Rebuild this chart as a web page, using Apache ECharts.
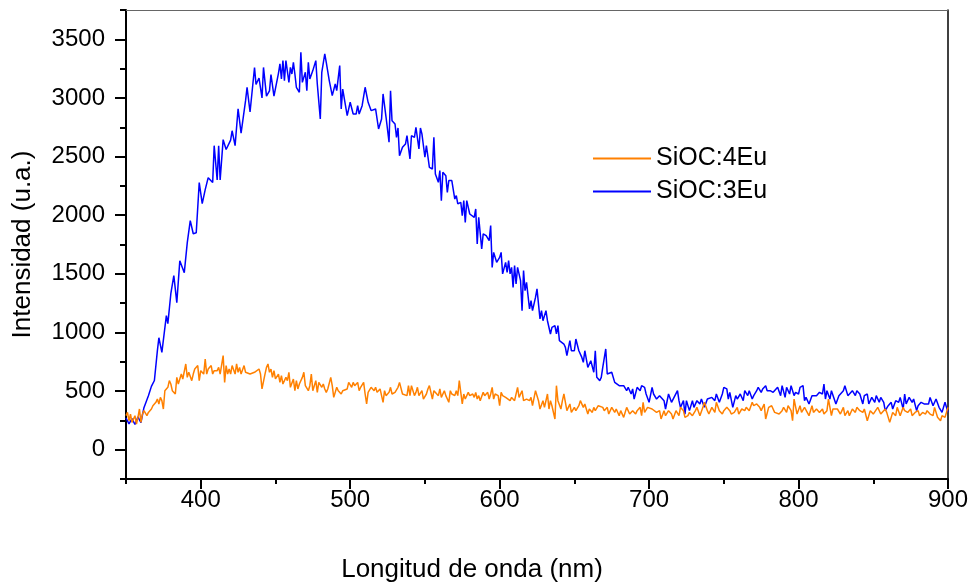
<!DOCTYPE html>
<html>
<head>
<meta charset="utf-8">
<script src="https://cdn.jsdelivr.net/npm/echarts@6/dist/echarts.min.js"></script>
<style>html,body{margin:0;padding:0;background:#fff;}#c{width:976px;height:584px;}</style>
</head>
<body>
<div id="c"></div>
<script>
const seriesNames = ['SiOC:4Eu', 'SiOC:3Eu'];
const xMajorTicks = [400, 500, 600, 700, 800, 900];
const xMinorTicks = [350, 450, 550, 650, 750, 850];
const yMajorTicks = [0, 500, 1000, 1500, 2000, 2500, 3000, 3500];
const yMinorTicks = [-250, 250, 750, 1250, 1750, 2250, 2750, 3250, 3750];

// SiOC:3Eu  [wavelength nm, intensity]
const sioc3Eu = [
[350,270],[352,220],[354,265],[356,215],[358,280],[360,230],[362,358],[365,460],[367,540],[369,590],
[371,845],[372,955],[374,830],[377,1143],[378,1075],[380,1330],[382,1485],[384,1254],[386,1612],[389,1510],
[391,1766],[393,1953],[395,1842],[397,1850],[399,2278],[401,2098],[403,2218],[405,2320],[408,2278],[409,2593],
[411,2300],[412,2593],[413,2300],[415,2644],[417,2560],[420,2640],[421,2720],[423,2593],[425,2908],[427,2700],
[430,2977],[431,3090],[433,2880],[436,3260],[437,3115],[439,3170],[441,3000],[442,3260],[444,3015],[446,3060],
[447,3200],[449,3015],[452,3210],[453,3290],[454,3162],[455,3318],[456,3148],[457,3318],[459,3133],[460,3261],
[461,3204],[462,3304],[463,3204],[464,3091],[466,3048],[467,3389],[468,3133],[470,3219],[471,3062],[472,3304],
[473,3162],[475,3233],[477,3318],[478,3119],[480,2821],[481,3219],[482,3233],[483,3375],[484,3304],[486,3148],
[488,3020],[490,3119],[491,3062],[493,3276],[494,2906],[495,3076],[498,2849],[500,2963],[502,2863],[504,2863],
[505,2934],[506,2863],[508,2934],[509,2934],[510,3091],[512,2963],[514,2892],[517,2906],[518,2920],[519,2735],
[521,2821],[522,3034],[524,2835],[526,2622],[527,3062],[528,2806],[530,2778],[531,2664],[532,2744],[533,2508],
[535,2579],[537,2607],[538,2678],[540,2480],[541,2678],[543,2664],[544,2750],[546,2565],[547,2744],[548,2693],
[550,2494],[551,2593],[553,2408],[555,2394],[556,2664],[557,2352],[559,2280],[560,2380],[561,2124],[562,2366],
[564,2337],[565,2195],[566,2295],[568,2295],[570,2138],[571,2167],[572,2096],[574,2110],[575,1996],[576,2124],
[577,1939],[578,2124],[580,2010],[581,1996],[583,1982],[584,2053],[585,1754],[586,1982],[588,1712],[589,1840],
[591,1825],[593,1783],[594,1911],[595,1555],[596,1683],[598,1598],[600,1640],[601,1683],[602,1499],[604,1598],
[605,1512],[606,1612],[607,1499],[608,1555],[609,1384],[610,1570],[611,1413],[612,1555],[614,1442],[615,1186],
[616,1527],[617,1356],[618,1427],[620,1200],[621,1271],[622,1186],[624,1299],[625,1371],[627,1115],[628,1186],
[629,1100],[631,1186],[632,1100],[634,987],[635,1043],[637,1058],[638,987],[639,1058],[640,930],[643,901],
[644,873],[645,802],[647,930],[648,844],[650,844],[651,944],[653,844],[655,787],[656,745],[657,844],
[659,702],[661,759],[663,660],[664,844],[665,617],[667,589],[668,617],[669,702],[671,859],[672,645],
[673,631],[675,660],[677,574],[678,589],[680,546],[681,560],[683,546],[685,503],[686,532],[688,475],
[689,518],[690,432],[692,532],[694,503],[695,546],[697,532],[698,475],[700,404],[702,532],[703,475],
[705,432],[707,461],[710,418],[711,347],[713,475],[715,404],[716,418],[719,503],[720,418],[721,361],
[723,418],[724,304],[725,418],[727,333],[729,418],[730,361],[732,418],[734,390],[735,432],[737,361],
[739,432],[740,418],[742,446],[744,418],[745,475],[747,404],[749,475],[750,532],[752,518],[753,432],
[754,489],[756,361],[758,461],[759,432],[761,475],[763,418],[764,503],[766,461],[767,503],[769,432],
[770,461],[772,503],[773,532],[775,489],[776,518],[778,546],[779,503],[781,503],[783,489],[784,503],
[786,532],[788,461],[789,546],[791,446],[792,532],[794,475],[795,546],[797,461],[798,489],[800,475],
[801,532],[803,546],[804,418],[805,446],[807,390],[809,461],[810,475],[812,461],[814,489],[816,475],
[817,560],[818,432],[819,503],[821,432],[822,503],[823,489],[825,390],[827,461],[828,475],[830,503],
[831,546],[833,461],[834,446],[836,503],[838,461],[839,503],[841,475],[843,390],[844,461],[846,475],
[847,390],[849,446],[851,404],[852,461],[854,404],[855,446],[857,404],[858,333],[860,375],[862,404],
[863,347],[865,418],[867,404],[868,446],[870,347],[871,475],[872,390],[874,446],[876,404],[877,432],
[879,333],[880,375],[882,404],[884,390],[885,404],[887,390],[888,446],[890,375],[892,432],[894,361],
[895,361],[896,318],[898,404],[899,361],[900,320]
];

// SiOC:4Eu  [wavelength nm, intensity]
const sioc4Eu = [
[350,290],[351,318],[352,247],[353,304],[354,233],[356,290],[357,219],[358,276],[359,347],[360,233],
[361,304],[362,333],[364,290],[365,318],[367,347],[368,375],[370,404],[371,432],[372,390],[373,446],
[374,418],[375,347],[376,503],[378,532],[379,589],[380,560],[381,503],[383,475],[384,617],[385,560],
[387,645],[388,603],[390,731],[391,617],[392,660],[394,589],[395,645],[396,688],[398,717],[399,589],
[400,674],[402,645],[403,773],[404,645],[405,688],[407,717],[408,645],[409,674],[411,674],[412,702],
[413,645],[415,802],[416,574],[417,717],[418,645],[419,688],[420,645],[421,717],[423,645],[424,731],
[425,660],[426,702],[427,645],[429,717],[430,660],[431,674],[433,645],[434,660],[436,660],[437,645],
[439,688],[440,645],[441,518],[443,645],[444,702],[445,731],[446,660],[447,688],[448,617],[449,674],
[450,603],[452,645],[453,574],[454,631],[455,560],[457,617],[458,589],[459,660],[460,532],[462,603],
[463,503],[464,589],[465,518],[466,560],[468,617],[469,660],[470,546],[471,560],[472,503],[473,546],
[474,645],[475,503],[477,589],[478,489],[479,574],[481,532],[482,560],[483,518],[484,489],[485,518],
[487,617],[488,546],[489,446],[491,532],[492,503],[494,475],[495,503],[496,489],[498,518],[499,574],
[501,532],[502,574],[503,546],[505,574],[506,503],[507,532],[509,574],[510,475],[511,390],[512,489],
[514,532],[516,503],[517,532],[518,489],[520,518],[522,404],[523,503],[524,461],[526,489],[527,532],
[528,475],[530,489],[532,532],[533,574],[535,475],[536,489],[538,461],[539,546],[540,461],[541,546],
[543,461],[544,489],[545,532],[546,461],[548,503],[549,432],[551,475],[552,518],[553,546],[555,432],
[556,503],[557,489],[559,461],[560,518],[561,446],[563,503],[564,461],[566,404],[567,503],[568,475],
[570,461],[571,503],[572,461],[573,589],[574,489],[575,390],[576,475],[577,432],[579,489],[580,461],
[581,475],[582,475],[583,446],[584,489],[585,432],[586,461],[587,418],[589,489],[590,461],[592,489],
[593,432],[594,475],[595,532],[596,432],[597,475],[599,461],[600,375],[601,489],[602,461],[604,446],
[605,461],[607,418],[608,446],[610,418],[612,532],[613,446],[615,503],[616,418],[618,432],[620,418],
[621,446],[622,375],[624,503],[626,418],[627,347],[629,418],[630,361],[632,475],[633,347],[634,418],
[635,375],[637,262],[638,546],[639,418],[641,347],[642,418],[643,475],[645,333],[647,390],[648,318],
[650,361],[651,333],[653,375],[654,418],[656,361],[657,390],[659,304],[660,347],[662,318],[663,361],
[664,333],[666,375],[667,375],[669,361],[670,333],[672,361],[673,304],[675,361],[677,318],[678,347],
[680,290],[681,333],[683,276],[685,361],[686,375],[687,304],[689,333],[691,304],[692,333],[694,361],
[695,290],[696,404],[697,318],[699,361],[700,375],[702,347],[703,333],[705,318],[707,333],[708,262],
[710,333],[711,290],[713,333],[715,304],[716,262],[718,333],[720,290],[721,361],[723,333],[724,276],
[726,290],[727,318],[729,290],[731,333],[732,361],[734,290],[736,361],[737,404],[739,333],[740,304],
[742,361],[744,318],[745,404],[747,333],[749,304],[750,333],[752,361],[754,333],[755,304],[757,318],
[759,361],[760,304],[762,347],[764,333],[765,361],[767,333],[769,404],[770,375],[772,390],[774,361],
[775,333],[777,390],[778,262],[780,361],[781,375],[782,375],[784,318],[785,333],[787,304],[789,333],
[790,361],[792,318],[793,375],[795,333],[796,247],[797,432],[799,304],[801,375],[802,318],[804,361],
[805,375],[807,290],[809,375],[810,318],[812,347],[814,318],[816,347],[817,304],[819,333],[820,432],
[822,290],[823,347],[824,333],[826,347],[828,304],[830,361],[831,290],[833,333],[834,290],[836,347],
[838,318],[839,361],[841,333],[843,318],[844,347],[846,247],[848,333],[850,304],[851,318],[853,361],
[855,304],[856,318],[858,347],[859,318],[861,233],[863,318],[865,290],[866,361],[868,290],[870,361],
[871,333],[873,318],[875,347],[876,290],[878,318],[880,333],[881,290],[883,318],[885,304],[886,333],
[888,304],[890,290],[891,361],[893,276],[895,247],[896,290],[898,276],[900,361]
];

const FONT = '"Liberation Sans", Arial, Helvetica, sans-serif';
const chart = echarts.init(document.getElementById('c'), null, {renderer: 'canvas'});
const xr = {min: 350, max: 900};
const yr = {min: -250, max: 3750};
const plain = v => String(v);
chart.setOption({
  animation: false,
  backgroundColor: '#ffffff',
  textStyle: {fontFamily: FONT},
  title: [{
    text: 'Longitud de onda (nm)',
    left: 467, top: 552, textAlign: 'center',
    textStyle: {fontFamily: FONT, fontSize: 26, fontWeight: 'normal', color: '#000'}
  }],
  grid: {left: 126, right: 28, top: 10, bottom: 105, containLabel: false},
  legend: {
    data: seriesNames,
    orient: 'vertical',
    left: 588, top: 141,
    icon: 'rect',
    itemWidth: 58, itemHeight: 2, itemGap: 8,
    textStyle: {fontFamily: FONT, fontSize: 25, color: '#000', lineHeight: 25}
  },
  xAxis: [
    {type: 'value', position: 'bottom', min: xr.min, max: xr.max,
     axisLine: {show: true, onZero: false, lineStyle: {color: '#000', width: 2}},
     axisTick: {show: true, length: 10, lineStyle: {color: '#000', width: 2}, customValues: xMajorTicks},
     axisLabel: {show: true, margin: 9, fontSize: 24, color: '#000', fontFamily: FONT, customValues: xMajorTicks, formatter: plain},
     splitLine: {show: false}},
    {type: 'value', position: 'bottom', min: xr.min, max: xr.max,
     axisLine: {show: false, onZero: false},
     axisTick: {show: true, length: 5, lineStyle: {color: '#000', width: 2}, customValues: xMinorTicks},
     axisLabel: {show: false}, splitLine: {show: false}},
    {type: 'value', position: 'top', min: xr.min, max: xr.max,
     axisLine: {show: true, onZero: false, lineStyle: {color: '#666', width: 1}},
     axisTick: {show: false}, axisLabel: {show: false}, splitLine: {show: false}}
  ],
  yAxis: [
    {type: 'value', position: 'left', min: yr.min, max: yr.max,
     name: 'Intensidad (u.a.)', nameLocation: 'middle', nameGap: 90, nameRotate: 90,
     nameTextStyle: {fontFamily: FONT, fontSize: 26, color: '#000'},
     axisLine: {show: true, onZero: false, lineStyle: {color: '#000', width: 2}},
     axisTick: {show: true, length: 11, lineStyle: {color: '#000', width: 2}, customValues: yMajorTicks},
     axisLabel: {show: true, margin: 21, fontSize: 24, color: '#000', fontFamily: FONT, customValues: yMajorTicks, formatter: plain},
     splitLine: {show: false}},
    {type: 'value', position: 'left', min: yr.min, max: yr.max,
     axisLine: {show: false, onZero: false},
     axisTick: {show: true, length: 6, lineStyle: {color: '#000', width: 2}, customValues: yMinorTicks},
     axisLabel: {show: false}, splitLine: {show: false}},
    {type: 'value', position: 'right', min: yr.min, max: yr.max,
     axisLine: {show: true, onZero: false, lineStyle: {color: '#000', width: 1.5}},
     axisTick: {show: false}, axisLabel: {show: false}, splitLine: {show: false}}
  ],
  series: [
    {name: seriesNames[1], type: 'line', xAxisIndex: 0, yAxisIndex: 0, data: sioc3Eu,
     symbol: 'none', showSymbol: false, color: '#0000FF',
     lineStyle: {color: '#0000FF', width: 1.5}},
    {name: seriesNames[0], type: 'line', xAxisIndex: 0, yAxisIndex: 0, data: sioc4Eu,
     symbol: 'none', showSymbol: false, color: '#FF8000',
     lineStyle: {color: '#FF8000', width: 1.5}}
  ]
});
</script>
</body>
</html>
